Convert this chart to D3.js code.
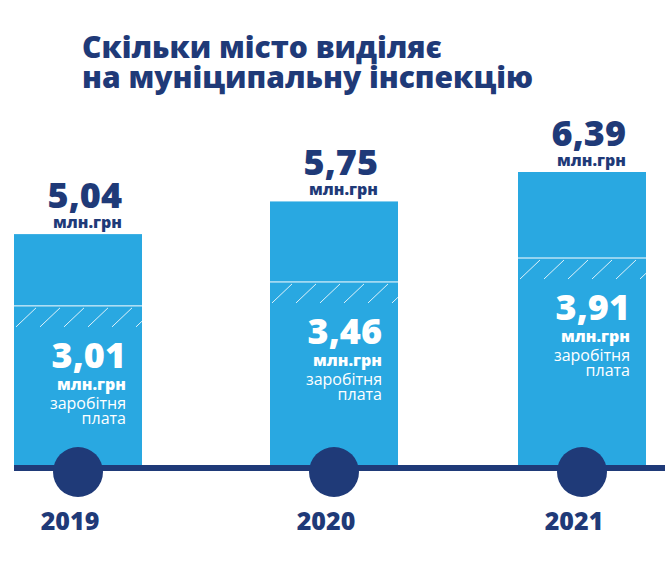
<!DOCTYPE html>
<html><head><meta charset="utf-8">
<script src="https://cdn.jsdelivr.net/npm/d3@7"></script>
<style>body{margin:0;background:#fff}text{font-family:"Open Sans",sans-serif}</style>
</head><body>
<script>
const years = ["2019", "2020", "2021"];
const totals = [5.04, 5.75, 6.39];
const salaries = [3.01, 3.46, 3.91];
const fmt = v => v.toFixed(2).replace(".", ",");

const W = 665, H = 566, base = 466;
const blue = "#29a8e1", navy = "#1f3a78";
const svg = d3.select("body").append("svg").attr("width", W).attr("height", H);

const bx = d => [14, 270, 518][years.indexOf(d)]; // bar left edges
const bw = 128;
const y = d3.scaleLinear().domain([0, 6.39]).range([base, 172]);
const yS = d3.scaleLinear().domain([0, 3.91]).range([base, 258]);

svg.append("text").attr("x", 82).attr("y", 58).attr("font-size", 30).attr("font-weight", 800)
  .attr("fill", navy).text("Скільки місто виділяє");
svg.append("text").attr("x", 82).attr("y", 88).attr("font-size", 30).attr("font-weight", 800)
  .attr("fill", navy).text("на муніципальну інспекцію");

years.forEach((yr, i) => {
  const left = bx(yr), g = svg.append("g");
  g.append("rect").attr("x", left).attr("y", y(totals[i])).attr("width", bw)
    .attr("height", base - y(totals[i])).attr("fill", blue);
  const st = yS(salaries[i]);
  g.append("line").attr("x1", left - 14).attr("x2", left + bw + 14).attr("y1", st).attr("y2", st)
    .attr("stroke", "#fff").attr("stroke-width", 1);
  d3.range(6).forEach(k => {
    const x0 = left + 2 + k * 24;
    g.append("line").attr("x1", x0).attr("y1", st + 21).attr("x2", x0 + 20).attr("y2", st + 2)
      .attr("stroke", "#fff").attr("stroke-width", 1).attr("opacity", 0.85);
  });
  const r = left + 108;
  g.append("text").attr("x", r).attr("y", y(totals[i]) - 26).attr("text-anchor", "end")
    .attr("font-size", 36).attr("font-weight", 800).attr("fill", navy).text(fmt(totals[i]));
  g.append("text").attr("x", r).attr("y", y(totals[i]) - 6).attr("text-anchor", "end")
    .attr("font-size", 16).attr("font-weight", 800).attr("fill", navy).text("млн.грн");
  const t = st + 62;
  g.append("text").attr("x", r + 4).attr("y", t).attr("text-anchor", "end")
    .attr("font-size", 36).attr("font-weight", 800).attr("fill", "#fff").text(fmt(salaries[i]));
  g.append("text").attr("x", r + 4).attr("y", t + 22).attr("text-anchor", "end")
    .attr("font-size", 16).attr("font-weight", 800).attr("fill", "#fff").text("млн.грн");
  g.append("text").attr("x", r + 4).attr("y", t + 41).attr("text-anchor", "end")
    .attr("font-size", 16).attr("fill", "#fff").text("заробітня");
  g.append("text").attr("x", r + 4).attr("y", t + 56).attr("text-anchor", "end")
    .attr("font-size", 16).attr("fill", "#fff").text("плата");
  g.append("text").attr("x", left + 56).attr("y", 530).attr("text-anchor", "middle")
    .attr("font-size", 25).attr("font-weight", 800).attr("fill", navy).text(yr);
});
svg.append("rect").attr("x", 14).attr("y", base - 1).attr("width", 651).attr("height", 6).attr("fill", navy);
years.forEach(yr => {
  svg.append("circle").attr("cx", bx(yr) + 64).attr("cy", 472).attr("r", 25).attr("fill", navy);
});
</script>
</body></html>
